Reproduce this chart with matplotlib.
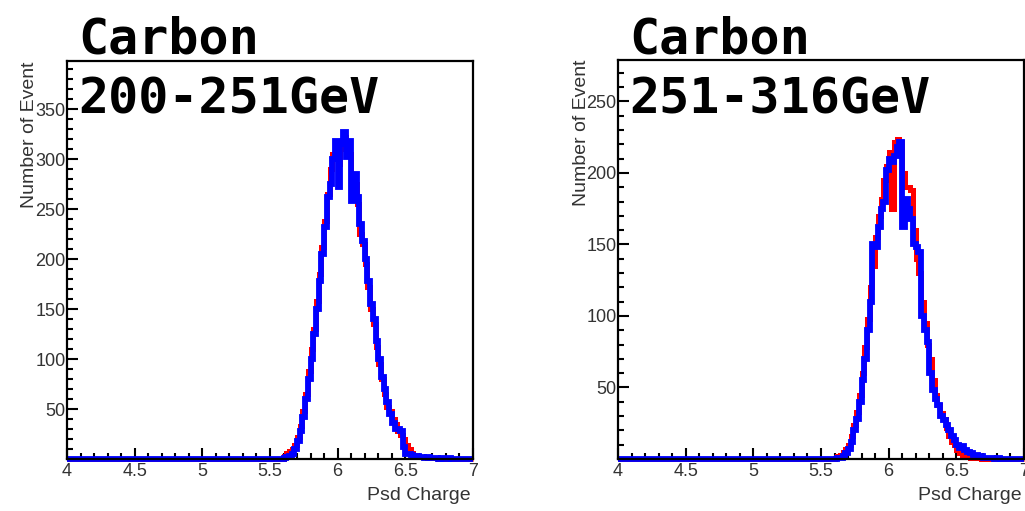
import numpy as np
import matplotlib
matplotlib.use('Agg')
import matplotlib.pyplot as plt
from matplotlib.ticker import MultipleLocator

# histogram binning (Psd Charge from 4 to 7, 0.02 wide bins)
x_min, x_max = 4.0, 7.0
bin_width = 0.02
first_edge = 5.6   # first bin of the lists below, everything else is empty

# counts per bin, starting at 5.60
left_red = [3, 6, 8, 10, 14, 22, 33, 48, 65, 88,
            110, 130, 158, 185, 212, 238, 265, 290, 305, 300,
            295, 310, 322, 318, 305, 270, 275, 255, 225, 215,
            195, 172, 150, 135, 112, 95, 80, 65, 52, 48,
            40, 35, 28, 24, 20, 14, 10, 6, 4, 3,
            2, 2, 2, 1, 1, 1, 1, 0, 0, 1,
            0, 0, 0, 0, 0]
left_blue = [1, 2, 3, 5, 10, 18, 28, 42, 60, 80,
             100, 125, 150, 178, 205, 232, 262, 275, 300, 318,
             272, 315, 327, 302, 318, 258, 285, 262, 235, 218,
             200, 178, 155, 140, 118, 100, 82, 70, 57, 45,
             36, 30, 30, 28, 12, 5, 5, 4, 3, 3,
             2, 2, 1, 2, 1, 1, 1, 0, 1, 0,
             0, 1, 0, 0, 0]
right_red = [1, 2, 3, 5, 7, 10, 16, 24, 33, 45,
             60, 78, 98, 120, 135, 155, 170, 182, 195, 205,
             215, 175, 222, 224, 222, 200, 190, 190, 188, 160,
             140, 130, 110, 95, 80, 70, 55, 45, 38, 32,
             28, 22, 16, 12, 10, 6, 4, 3, 2, 2,
             1, 1, 1, 1, 0, 0, 0, 0, 0, 0,
             0, 0, 0, 0, 0]
right_blue = [0, 1, 1, 2, 4, 7, 12, 20, 28, 40,
              55, 70, 90, 110, 150, 148, 162, 175, 180, 202,
              210, 208, 212, 218, 222, 162, 182, 175, 168, 150,
              148, 145, 100, 90, 82, 60, 48, 42, 38, 30,
              27, 24, 20, 16, 13, 10, 8, 9, 6, 5,
              4, 3, 3, 2, 2, 1, 1, 1, 1, 0,
              1, 0, 0, 0, 0]

x_ticks = [4, 4.5, 5, 5.5, 6, 6.5, 7]
x_tick_labels = ['4', '4.5', '5', '5.5', '6', '6.5', '7']
left_y_ticks = [50, 100, 150, 200, 250, 300, 350]
right_y_ticks = [50, 100, 150, 200, 250]

titles = [('Carbon', '200-251GeV'), ('Carbon', '251-316GeV')]

n_bins = round((x_max - x_min) / bin_width)
edges = np.linspace(x_min, x_max, n_bins + 1)


def full_hist(vals):
    counts = np.zeros(n_bins)
    start = round((first_edge - x_min) / bin_width)
    counts[start:start + len(vals)] = vals
    return counts


W, H = 1025, 511
fig = plt.figure(figsize=(W / 100, H / 100), dpi=100)

panels = [
    dict(box=(67, 61, 473, 459), ymax=398, yticks=left_y_ticks,
         red=left_red, blue=left_blue, ylab_x=29.5, title_x=78),
    dict(box=(618, 60, 1024, 459), ymax=279, yticks=right_y_ticks,
         red=right_red, blue=right_blue, ylab_x=581, title_x=629),
]

label_color = '#333333'

for p, (t1, t2) in zip(panels, titles):
    x0, y0, x1, y1 = p['box']
    ax = fig.add_axes([x0 / W, 1 - y1 / H, (x1 - x0) / W, (y1 - y0) / H])

    ax.stairs(full_hist(p['red']), edges, color='#ff0000', linewidth=3.6,
              clip_on=False, zorder=2)
    ax.stairs(full_hist(p['blue']), edges, color='#0000ff', linewidth=4.2,
              clip_on=False, zorder=3)

    ax.set_xlim(x_min, x_max)
    ax.set_ylim(0, p['ymax'])
    ax.set_xticks(x_ticks)
    ax.set_xticklabels(x_tick_labels)
    ax.set_yticks(p['yticks'])
    ax.xaxis.set_minor_locator(MultipleLocator(0.1))
    ax.yaxis.set_minor_locator(MultipleLocator(10))
    ax.tick_params(which='both', direction='in', top=False, right=False,
                   width=1.5, colors='black', labelcolor=label_color,
                   labelsize=13)
    ax.tick_params(which='major', length=8)
    ax.tick_params(which='minor', length=4)
    ax.tick_params(axis='y', pad=1)
    ax.tick_params(axis='x', pad=3)
    for lab in ax.get_xticklabels() + ax.get_yticklabels():
        lab.set_family('Liberation Sans')
    for s in ax.spines.values():
        s.set_linewidth(1.6)
        s.set_zorder(4)

    # axis titles (ROOT style, aligned to the axis ends)
    fig.text(x1 / W - 2 / W, 1 - 496 / H, 'Psd Charge', ha='right',
             va='center', fontsize=14, family='Liberation Sans',
             color=label_color)
    fig.text(p['ylab_x'] / W, 1 - y0 / H, 'Number of Event', rotation=90,
             ha='center', va='top', fontsize=14, family='Liberation Sans',
             color=label_color)

    # big slide titles
    fig.text(p['title_x'] / W, 1 - 53 / H, t1, ha='left', va='baseline',
             fontsize=36, family='DejaVu Sans Mono', weight='bold',
             color='black', zorder=10)
    fig.text(p['title_x'] / W, 1 - 113 / H, t2, ha='left', va='baseline',
             fontsize=36, family='DejaVu Sans Mono', weight='bold',
             color='black', zorder=10)

fig.savefig('out.png', dpi=100)
